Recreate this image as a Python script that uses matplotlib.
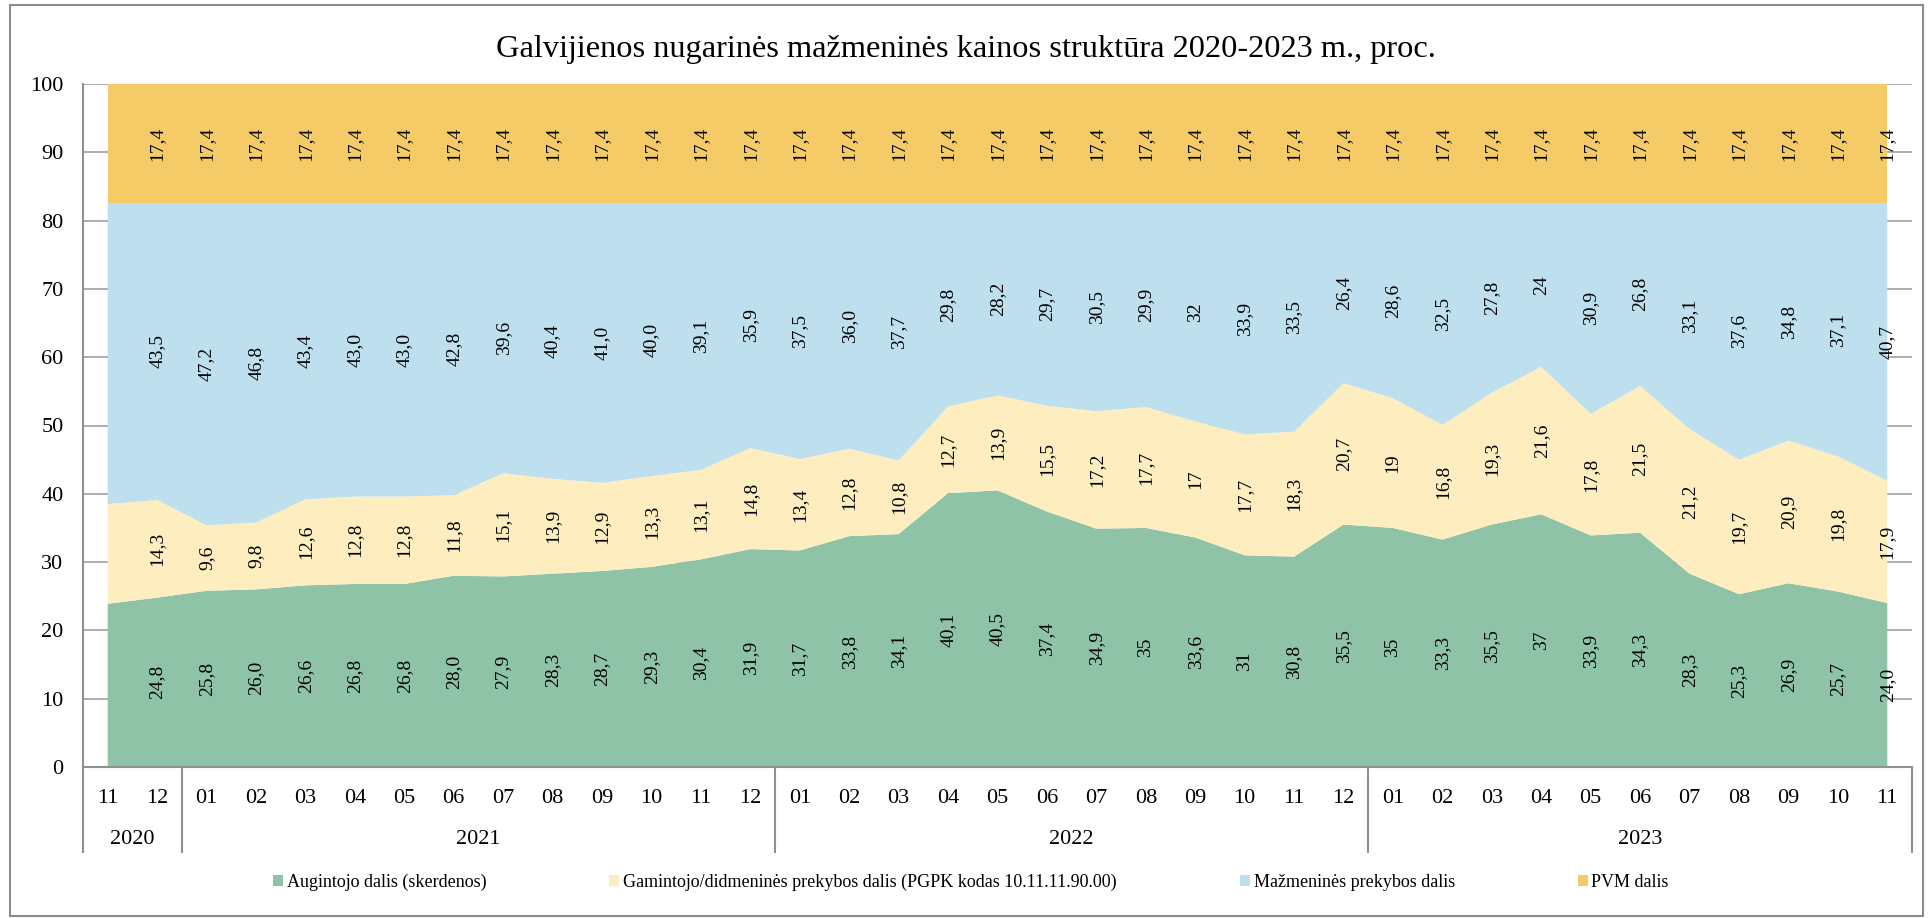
import numpy as np
import matplotlib.pyplot as plt
from matplotlib.patches import Patch, Rectangle

plt.rcParams['font.family'] = ['Liberation Serif', 'DejaVu Serif']

# menesiai 2020-11 .. 2023-11
months = ['11', '12',
          '01', '02', '03', '04', '05', '06', '07', '08', '09', '10', '11', '12',
          '01', '02', '03', '04', '05', '06', '07', '08', '09', '10', '11', '12',
          '01', '02', '03', '04', '05', '06', '07', '08', '09', '10', '11']
years = ['2020', '2021', '2022', '2023']
year_len = [2, 12, 12, 11]

augintojo = [23.9, 24.8,
             25.8, 26.0, 26.6, 26.8, 26.8, 28.0, 27.9, 28.3, 28.7, 29.3, 30.4, 31.9,
             31.7, 33.8, 34.1, 40.1, 40.5, 37.4, 34.9, 35, 33.6, 31, 30.8, 35.5,
             35, 33.3, 35.5, 37, 33.9, 34.3, 28.3, 25.3, 26.9, 25.7, 24.0]
gamintojo = [14.6, 14.3,
             9.6, 9.8, 12.6, 12.8, 12.8, 11.8, 15.1, 13.9, 12.9, 13.3, 13.1, 14.8,
             13.4, 12.8, 10.8, 12.7, 13.9, 15.5, 17.2, 17.7, 17, 17.7, 18.3, 20.7,
             19, 16.8, 19.3, 21.6, 17.8, 21.5, 21.2, 19.7, 20.9, 19.8, 17.9]
mazmenine = [44.1, 43.5,
             47.2, 46.8, 43.4, 43.0, 43.0, 42.8, 39.6, 40.4, 41.0, 40.0, 39.1, 35.9,
             37.5, 36.0, 37.7, 29.8, 28.2, 29.7, 30.5, 29.9, 32, 33.9, 33.5, 26.4,
             28.6, 32.5, 27.8, 24, 30.9, 26.8, 33.1, 37.6, 34.8, 37.1, 40.7]
pvm = [17.4] * 37

# etikeciu tekstai (pirmas taskas be etiketes)
lab_aug = ['', '24,8',
           '25,8', '26,0', '26,6', '26,8', '26,8', '28,0', '27,9', '28,3', '28,7', '29,3', '30,4', '31,9',
           '31,7', '33,8', '34,1', '40,1', '40,5', '37,4', '34,9', '35', '33,6', '31', '30,8', '35,5',
           '35', '33,3', '35,5', '37', '33,9', '34,3', '28,3', '25,3', '26,9', '25,7', '24,0']
lab_gam = ['', '14,3',
           '9,6', '9,8', '12,6', '12,8', '12,8', '11,8', '15,1', '13,9', '12,9', '13,3', '13,1', '14,8',
           '13,4', '12,8', '10,8', '12,7', '13,9', '15,5', '17,2', '17,7', '17', '17,7', '18,3', '20,7',
           '19', '16,8', '19,3', '21,6', '17,8', '21,5', '21,2', '19,7', '20,9', '19,8', '17,9']
lab_maz = ['', '43,5',
           '47,2', '46,8', '43,4', '43,0', '43,0', '42,8', '39,6', '40,4', '41,0', '40,0', '39,1', '35,9',
           '37,5', '36,0', '37,7', '29,8', '28,2', '29,7', '30,5', '29,9', '32', '33,9', '33,5', '26,4',
           '28,6', '32,5', '27,8', '24', '30,9', '26,8', '33,1', '37,6', '34,8', '37,1', '40,7']
lab_pvm = [''] + ['17,4'] * 36

names = ['Augintojo dalis (skerdenos)',
         'Gamintojo/didmeninės prekybos dalis (PGPK kodas 10.11.11.90.00)',
         'Mažmeninės prekybos dalis',
         'PVM dalis']
colors = ['#8ec3a7', '#fdedbf', '#bddfee', '#f4cb67']

W, H = 1932, 918
fig = plt.figure(figsize=(W / 100, H / 100), dpi=100)
ax = fig.add_axes([83 / W, 1 - 767 / H, (1912 - 83) / W, (767 - 84) / H])

x = np.arange(len(months))
series = [augintojo, gamintojo, mazmenine, pvm]
labels = [lab_aug, lab_gam, lab_maz, lab_pvm]
ax.stackplot(x, *series, colors=colors, zorder=2)

bottom = np.zeros(len(x))
for vals, labs in zip(series, labels):
    vals = np.array(vals, dtype=float)
    for i in range(len(x)):
        if labs[i]:
            ax.text(x[i], bottom[i] + vals[i] / 2, labs[i], rotation=90,
                    ha='center', va='center', fontsize=14, zorder=3)
    bottom += vals

ax.set_xlim(-0.5, len(x) - 0.5)
ax.set_ylim(0, 100)
ax.set_yticks(np.arange(0, 101, 10))
ax.yaxis.grid(True, color='#a0a0a0', lw=1.2)
ax.set_axisbelow(True)
ax.tick_params(axis='y', length=0, labelsize=16, pad=14)
ax.set_xticks(x)
ax.set_xticklabels(months)
ax.tick_params(axis='x', length=0, labelsize=16, pad=16)
for s in ['top', 'right']:
    ax.spines[s].set_visible(False)
for s in ['left', 'bottom']:
    ax.spines[s].set_color('#909090')
    ax.spines[s].set_linewidth(1.5)

# metu grupes po asimi
trans = ax.get_xaxis_transform()
yb = -85 / 683
start = 0
edges = [-0.5]
for yr, n in zip(years, year_len):
    ax.text(start + (n - 1) / 2, -72 / 683, yr, transform=trans,
            ha='center', va='center', fontsize=16)
    start += n
    edges.append(start - 0.5)
for e in edges:
    ax.plot([e, e], [0, yb], transform=trans, color='#909090', lw=1.5, clip_on=False)

fig.suptitle('Galvijienos nugarinės mažmeninės kainos struktūra 2020-2023 m., proc.',
             fontsize=23.3, y=1 - 50 / H, va='center')

handles = [Patch(facecolor=c, edgecolor='none') for c in colors]
fig.legend(handles, names, loc='center', bbox_to_anchor=(0.5026, 1 - 882 / H), ncol=4,
           frameon=False, fontsize=13, handlelength=0.55, handleheight=0.55,
           handletextpad=0.22, columnspacing=6.8)

fig.patches.append(Rectangle((10 / W, 2 / H), (1923 - 10) / W, (913 - 2) / H,
                             transform=fig.transFigure, fill=False,
                             edgecolor='#8c8c8c', lw=1.5))

fig.savefig('out.png', dpi=100)
